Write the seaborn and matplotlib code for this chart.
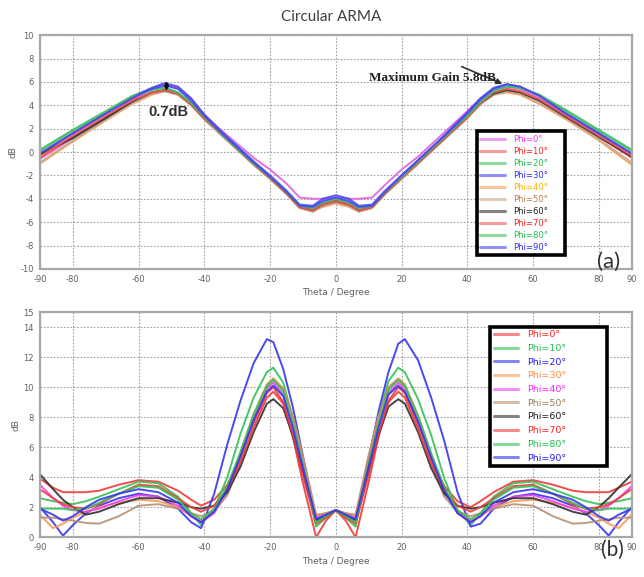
import matplotlib
matplotlib.use("Agg")
import matplotlib.pyplot as plt
from matplotlib.lines import Line2D
import pandas as pd
import seaborn as sns

# ---- data ----
phi_labels = ["Phi=0°", "Phi=10°", "Phi=20°", "Phi=30°", "Phi=40°",
              "Phi=50°", "Phi=60°", "Phi=70°", "Phi=80°", "Phi=90°"]

# (a) circular ARMA gain
theta_a = [-90, -80, -70, -62, -56, -52, -48, -44, -40, -35, -30, -25, -20, -15, -11, -7, -4, 0,
           4, 7, 11, 15, 20, 25, 30, 35, 40, 44, 48, 52, 56, 62, 70, 80, 90]
gain_a = [
    [-0.6, 1.2, 3.0, 4.5, 5.4, 5.8, 5.5, 4.5, 3.2, 1.9, 0.7, -0.5, -1.5, -2.7, -3.9, -4.0, -4.0, -3.9,
     -4.0, -4.0, -3.9, -2.8, -1.5, -0.4, 0.9, 2.2, 3.5, 4.6, 5.4, 5.6, 5.4, 4.6, 3.2, 1.5, -0.4],
    [-0.5, 1.3, 3.0, 4.4, 5.1, 5.3, 5.0, 4.1, 2.9, 1.6, 0.3, -1.0, -2.2, -3.5, -4.7, -5.0, -4.6, -4.3,
     -4.6, -5.0, -4.7, -3.5, -2.1, -0.8, 0.5, 1.8, 3.1, 4.3, 5.1, 5.4, 5.2, 4.4, 3.0, 1.3, -0.5],
    [0.2, 1.9, 3.5, 4.8, 5.4, 5.5, 5.1, 4.2, 3.0, 1.6, 0.3, -1.0, -2.2, -3.5, -4.7, -4.9, -4.4, -4.1,
     -4.4, -4.9, -4.7, -3.5, -2.2, -0.9, 0.4, 1.8, 3.1, 4.3, 5.2, 5.6, 5.5, 4.9, 3.6, 1.9, 0.2],
    [-0.2, 1.6, 3.3, 4.7, 5.5, 5.9, 5.6, 4.6, 3.2, 1.8, 0.5, -0.8, -2.0, -3.3, -4.5, -4.6, -4.0, -3.7,
     -4.0, -4.6, -4.5, -3.3, -2.0, -0.7, 0.6, 2.0, 3.4, 4.6, 5.5, 5.8, 5.6, 4.8, 3.3, 1.6, -0.2],
    [-1.0, 0.9, 2.7, 4.1, 4.9, 5.2, 4.9, 4.0, 2.8, 1.5, 0.2, -1.1, -2.3, -3.6, -4.8, -5.1, -4.7, -4.4,
     -4.7, -5.1, -4.8, -3.6, -2.3, -1.0, 0.3, 1.6, 2.9, 4.1, 4.9, 5.1, 4.9, 4.1, 2.8, 1.0, -1.1],
    [-0.9, 1.0, 2.8, 4.2, 5.0, 5.2, 4.9, 4.0, 2.8, 1.5, 0.2, -1.1, -2.3, -3.6, -4.8, -5.1, -4.6, -4.3,
     -4.6, -5.1, -4.8, -3.6, -2.3, -1.0, 0.3, 1.6, 2.9, 4.1, 4.9, 5.2, 5.0, 4.2, 2.9, 1.1, -0.9],
    [-0.2, 1.2, 2.9, 4.3, 5.1, 5.3, 5.0, 4.1, 2.9, 1.6, 0.3, -1.0, -2.2, -3.5, -4.7, -5.0, -4.5, -4.2,
     -4.5, -5.0, -4.7, -3.5, -2.2, -0.9, 0.4, 1.7, 3.0, 4.2, 5.0, 5.3, 5.1, 4.4, 3.0, 1.3, -0.4],
    [-0.4, 1.4, 3.1, 4.4, 5.1, 5.3, 5.0, 4.1, 2.9, 1.6, 0.3, -1.0, -2.2, -3.5, -4.7, -5.0, -4.5, -4.2,
     -4.5, -5.0, -4.7, -3.5, -2.2, -0.9, 0.4, 1.7, 3.0, 4.2, 5.1, 5.4, 5.2, 4.5, 3.1, 1.4, -0.3],
    [0.1, 1.8, 3.4, 4.7, 5.3, 5.5, 5.1, 4.2, 3.0, 1.6, 0.3, -1.0, -2.1, -3.4, -4.6, -4.8, -4.3, -4.0,
     -4.3, -4.8, -4.6, -3.4, -2.1, -0.8, 0.5, 1.8, 3.1, 4.3, 5.2, 5.6, 5.5, 4.8, 3.5, 1.8, 0.1],
    [-0.1, 1.6, 3.3, 4.6, 5.4, 5.7, 5.4, 4.4, 3.1, 1.7, 0.4, -0.9, -2.1, -3.4, -4.6, -4.7, -4.2, -3.9,
     -4.2, -4.7, -4.6, -3.4, -2.0, -0.7, 0.6, 1.9, 3.3, 4.5, 5.4, 5.8, 5.6, 4.8, 3.3, 1.6, -0.1],
]
colors_a = ["#e060e0", "#f05a5a", "#45c065", "#4848f0", "#f0a060",
            "#c8a888", "#303030", "#f05a5a", "#45c065", "#4848f0"]
text_colors_a = ["#ff30ff", "#ff2020", "#20c050", "#2a2aff", "#ffb000",
                 "#b08050", "#202020", "#ff2020", "#20c050", "#2a2aff"]

# (b)
theta_b = [-90, -86, -83, -80, -76, -72, -66, -60, -54, -48, -44, -41, -37, -33, -29, -25, -21, -19,
           -16, -13, -10, -6, -3, 0, 3, 6, 10, 13, 16, 19, 21, 25, 29, 33, 37, 41, 44, 48, 54, 60,
           66, 72, 76, 80, 83, 86, 90]
gain_b = [
    [3.9, 3.3, 3.0, 3.0, 3.0, 3.1, 3.5, 3.8, 3.7, 3.1, 2.5, 2.1, 2.5, 3.5, 5.3, 7.6, 9.6, 10.0,
     9.0, 6.6, 3.6, 0.0, 1.1, 1.8, 1.1, 0.0, 3.7, 6.7, 9.1, 10.0, 9.6, 7.5, 5.2, 3.4, 2.4, 2.0,
     2.4, 3.0, 3.7, 3.8, 3.5, 3.1, 3.0, 3.0, 3.0, 3.3, 3.7],
    [2.6, 2.4, 2.3, 2.2, 2.4, 2.7, 3.2, 3.7, 3.6, 2.7, 1.6, 0.8, 1.9, 4.0, 6.9, 9.3, 11.0, 11.3,
     10.3, 7.9, 4.6, 0.7, 1.3, 1.8, 1.3, 0.7, 4.7, 8.0, 10.4, 11.3, 11.0, 9.2, 6.8, 3.9, 1.8, 0.8,
     1.6, 2.7, 3.6, 3.7, 3.2, 2.7, 2.4, 2.2, 2.3, 2.4, 2.6],
    [2.0, 1.0, 0.1, 0.8, 1.6, 2.1, 2.6, 2.9, 2.7, 1.9, 1.0, 0.6, 2.9, 6.2, 9.1, 11.6, 13.2, 13.0,
     11.2, 8.6, 5.4, 1.1, 1.4, 1.8, 1.4, 1.1, 5.2, 8.4, 11.0, 12.9, 13.2, 11.8, 9.3, 6.4, 3.0, 0.7,
     0.9, 1.9, 2.7, 2.9, 2.6, 2.1, 1.6, 0.8, 0.1, 1.0, 2.0],
    [1.5, 0.6, 0.9, 1.3, 1.7, 2.0, 2.3, 2.5, 2.4, 2.0, 1.4, 1.1, 1.9, 3.3, 5.6, 8.2, 10.2, 10.6,
     9.9, 7.9, 5.2, 1.4, 1.6, 1.8, 1.6, 1.4, 5.3, 8.0, 10.0, 10.6, 10.2, 8.1, 5.5, 3.2, 1.8, 1.1,
     1.4, 2.0, 2.4, 2.5, 2.3, 2.0, 1.7, 1.3, 0.9, 0.6, 1.5],
    [3.5, 2.6, 2.1, 1.8, 1.7, 1.9, 2.4, 2.8, 2.7, 2.1, 1.4, 1.0, 1.6, 3.1, 5.4, 7.9, 9.9, 10.3,
     9.5, 7.4, 4.8, 1.3, 1.5, 1.8, 1.5, 1.3, 4.9, 7.5, 9.6, 10.3, 9.9, 7.8, 5.3, 3.0, 1.6, 1.0,
     1.4, 2.1, 2.7, 2.8, 2.4, 1.9, 1.7, 1.8, 2.1, 2.6, 3.4],
    [1.3, 1.3, 1.2, 1.1, 0.95, 0.9, 1.4, 2.1, 2.2, 1.9, 1.6, 1.4, 1.7, 2.8, 5.0, 7.8, 10.0, 10.5,
     9.9, 8.0, 5.4, 1.5, 1.6, 1.8, 1.6, 1.5, 5.5, 8.1, 10.0, 10.5, 10.0, 7.7, 4.9, 2.7, 1.7, 1.4,
     1.6, 1.9, 2.2, 2.1, 1.4, 0.9, 0.95, 1.1, 1.2, 1.3, 1.3],
    [4.2, 3.2, 2.5, 2.0, 1.5, 1.7, 2.2, 2.6, 2.6, 2.3, 2.0, 1.9, 2.1, 3.0, 4.7, 7.0, 8.9, 9.2,
     8.6, 6.7, 4.3, 1.1, 1.4, 1.8, 1.4, 1.1, 4.4, 6.8, 8.7, 9.2, 8.9, 7.0, 4.6, 2.9, 2.1, 1.9,
     2.0, 2.3, 2.6, 2.6, 2.2, 1.7, 1.5, 2.0, 2.6, 3.3, 4.2],
    [3.2, 2.6, 2.2, 2.0, 1.9, 2.2, 2.9, 3.5, 3.4, 2.6, 2.0, 1.7, 2.1, 3.2, 5.0, 7.3, 9.3, 9.7,
     8.9, 6.8, 4.1, 0.9, 1.3, 1.8, 1.3, 0.9, 4.2, 6.9, 9.0, 9.7, 9.3, 7.2, 4.9, 3.1, 2.1, 1.7,
     2.0, 2.6, 3.4, 3.5, 2.9, 2.2, 1.9, 2.0, 2.2, 2.6, 3.2],
    [1.9, 1.9, 1.9, 1.8, 1.9, 2.3, 2.9, 3.4, 3.3, 2.5, 1.6, 1.2, 1.9, 3.4, 5.7, 8.2, 10.1, 10.5,
     9.7, 7.5, 4.8, 1.0, 1.4, 1.8, 1.4, 1.0, 4.9, 7.6, 9.8, 10.5, 10.1, 8.1, 5.6, 3.3, 1.8, 1.2,
     1.6, 2.5, 3.3, 3.4, 2.9, 2.3, 1.9, 1.8, 1.9, 1.9, 1.9],
    [1.9, 1.5, 1.1, 1.4, 2.0, 2.5, 2.9, 3.2, 3.0, 2.3, 1.4, 1.0, 1.7, 3.2, 5.4, 7.8, 9.7, 10.1,
     9.4, 7.2, 4.6, 1.2, 1.5, 1.8, 1.5, 1.2, 4.7, 7.3, 9.5, 10.1, 9.7, 7.7, 5.3, 3.1, 1.6, 1.0,
     1.4, 2.3, 3.0, 3.2, 2.9, 2.5, 2.0, 1.4, 1.1, 1.5, 1.9],
]
colors_b = ["#f03a3a", "#35c055", "#3535f0", "#f59a55", "#f040f0",
            "#b89070", "#303030", "#f03a3a", "#35c055", "#3535f0"]
text_colors_b = ["#ff2020", "#20c050", "#2020ff", "#ff8c40", "#ff20ff",
                 "#a07850", "#202020", "#ff2020", "#20c050", "#2020ff"]

x_ticks = [-90, -80, -60, -40, -20, 0, 20, 40, 60, 80, 90]
y_ticks_a = list(range(-10, 11, 2))
y_ticks_b = list(range(0, 15, 2)) + [15]

sns.set_style("whitegrid")
plt.rcParams["font.family"] = ["DejaVu Sans"]
plt.rcParams["axes.unicode_minus"] = False

fig = plt.figure(figsize=(6.44, 5.77), dpi=100)
ax1 = fig.add_axes([0.062, 0.534, 0.919, 0.405])
ax2 = fig.add_axes([0.062, 0.069, 0.919, 0.390])


def style_axes(ax, yticks, ylim):
    ax.set_xlim(-90, 90)
    ax.set_ylim(*ylim)
    ax.set_xticks(x_ticks)
    ax.set_yticks(yticks)
    ax.grid(True, color="#a0a0a0", linestyle=(0, (1.5, 1.5)), linewidth=0.8)
    for s in ax.spines.values():
        s.set_color("#a8a8a8")
        s.set_linewidth(1.6)
    ax.tick_params(axis="both", labelsize=6, labelcolor="#606060", length=2.5,
                   width=0.8, color="#a0a0a0", pad=2)
    ax.set_xlabel("Theta / Degree", fontsize=6.5, color="#606060", labelpad=3)
    ax.set_ylabel("dB", fontsize=6.5, color="#606060", labelpad=2)


# ---- (a) ----
for vals, c, lab in zip(gain_a, colors_a, phi_labels):
    df = pd.DataFrame({"theta": theta_a, "gain": vals})
    sns.lineplot(data=df, x="theta", y="gain", ax=ax1, color=c, linewidth=1.4,
                 alpha=0.9, legend=False)
style_axes(ax1, y_ticks_a, (-10, 10))

handles_a = [Line2D([], [], color=c, lw=2.2, alpha=0.6) for c in colors_a]
leg_a = ax1.legend(handles_a, phi_labels, loc="upper left",
                   bbox_to_anchor=(0.731, 0.607, 0.164, 0.0), mode="expand",
                   fontsize=6.1, labelcolor=text_colors_a, handlelength=2.9,
                   handletextpad=1.0, labelspacing=0.36, borderpad=0.4,
                   fancybox=False, framealpha=1, edgecolor="black")
leg_a.get_frame().set_linewidth(2.6)

ax1.annotate("", xy=(51.4, 5.75), xytext=(37.5, 7.4),
             arrowprops=dict(arrowstyle="-|>", color="#303030", lw=1.2,
                             mutation_scale=8))
ax1.text(29.5, 6.3, "Maximum Gain 5.8dB", fontsize=9.5, fontweight="bold",
         family=["Liberation Serif"], ha="center", va="center", color="#202020")
ax1.annotate("", xy=(-51.5, 6.3), xytext=(-51.5, 5.0),
             arrowprops=dict(arrowstyle="<|-|>", color="black", lw=1.0,
                             mutation_scale=6))
ax1.text(-50.8, 3.4, "0.7dB", fontsize=10.5, fontweight="bold",
         family=["Liberation Sans"], ha="center", va="center", color="#303030")
ax1.text(0.961, 0.03, "(a)", transform=ax1.transAxes, fontsize=16,
         family=["Lato", "DejaVu Sans"], ha="center", va="center", color="#303030")

# ---- (b) ----
for vals, c, lab in zip(gain_b, colors_b, phi_labels):
    df = pd.DataFrame({"theta": theta_b, "gain": vals})
    sns.lineplot(data=df, x="theta", y="gain", ax=ax2, color=c, linewidth=1.4,
                 alpha=0.9, legend=False)
style_axes(ax2, y_ticks_b, (0, 15))

handles_b = [Line2D([], [], color=c, lw=2.2, alpha=0.6) for c in colors_b]
leg_b = ax2.legend(handles_b, phi_labels, loc="upper left",
                   bbox_to_anchor=(0.753, 0.956, 0.213, 0.0), mode="expand",
                   fontsize=6.8, labelcolor=text_colors_b, handlelength=2.6,
                   handletextpad=0.9, labelspacing=0.5, borderpad=0.35,
                   fancybox=False, framealpha=1, edgecolor="black")
leg_b.get_frame().set_linewidth(2.6)

fig.text(0.951, 0.047, "(b)", fontsize=15, family=["Lato", "DejaVu Sans"],
         ha="center", va="center", color="#303030")
fig.text(0.515, 0.970, "Circular ARMA", fontsize=11, family=["Lato", "DejaVu Sans"],
         ha="center", va="center", color="#404040")

fig.savefig("out.png", dpi=100)
